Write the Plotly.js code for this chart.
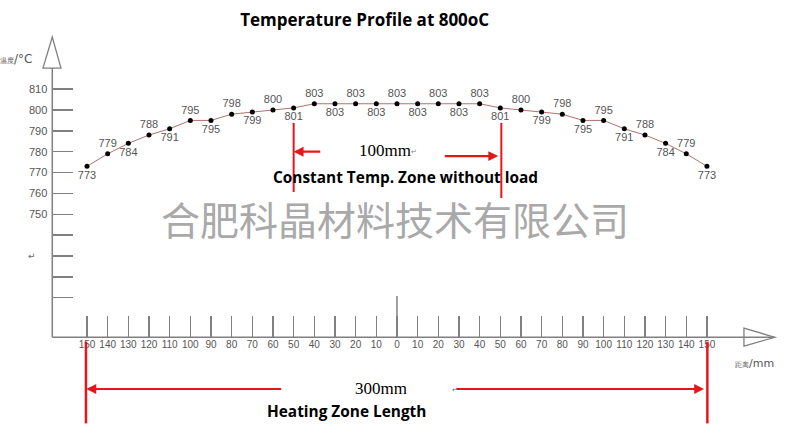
<!DOCTYPE html>
<html>
<head>
<meta charset="utf-8">
<script src="https://cdn.plot.ly/plotly-3.0.1.min.js"></script>
<style>html,body{margin:0;padding:0;background:#fff;}#chart{width:808px;height:448px;}</style>
</head>
<body>
<div id="chart"></div>
<script>
// ---- data ----
const positionsMm = [-150,-140,-130,-120,-110,-100,-90,-80,-70,-60,-50,-40,-30,-20,-10,0,10,20,30,40,50,60,70,80,90,100,110,120,130,140,150];
const temperatures = [773,779,784,788,791,795,795,798,799,800,801,803,803,803,803,803,803,803,803,803,801,800,799,798,795,795,791,788,784,779,773];
const xTickVals = [-150,-140,-130,-120,-110,-100,-90,-80,-70,-60,-50,-40,-30,-20,-10,0,10,20,30,40,50,60,70,80,90,100,110,120,130,140,150];
const xTickLabels = ['150','140','130','120','110','100','90','80','70','60','50','40','30','20','10','0','10','20','30','40','50','60','70','80','90','100','110','120','130','140','150'];
const yTickVals = [810,800,790,780,770,760,750,740,730,720,710];
const yTickLabels = ['810','800','790','780','770','760','750','','','',''];
const constZoneEdges = [-50, 50.5];
const heatZoneEdges = [-150.5, 150.2];

// ---- geometry ----
const xMin = -192.1, xMax = 198.9;
const yMin = 637.9, yMax = 852.76;
const axisX = -166.8;   // y-axis line location (x units)
const axisY = 691;      // x-axis line location (y units)
const grey = '#808080';
const red = '#e8161b';
const tickFamily = '"Liberation Sans Narrow", "Liberation Sans", Arial, sans-serif';
const xTickFont = {family: tickFamily, size: 10, color: '#555'};
const yTickFont = {family: tickFamily, size: 11, color: '#555'};

const textPos = temperatures.map((v, i) => i % 2 === 0 ? 'bottom center' : 'top center');

const trace = {
  x: positionsMm, y: temperatures, type: 'scatter', mode: 'lines+markers+text',
  line: {color: '#b07272', width: 1},
  marker: {color: '#000', size: 5},
  text: temperatures.map(String), textposition: textPos,
  textfont: {family: tickFamily, size: 11, color: '#555'},
  cliponaxis: false, hoverinfo: 'skip', showlegend: false
};

const shapes = [
  {type:'line', xref:'x', yref:'y', x0: axisX, x1: 182.9, y0: axisY, y1: axisY, line:{color:grey, width:1.5}},
  {type:'line', xref:'x', yref:'y', x0: axisX, x1: axisX, y0: axisY, y1: 820.1, line:{color:grey, width:1.5}},
  {type:'path', xref:'x', yref:'y', path:`M ${axisX} 835 L -171.3 820.1 L -162.6 820.1 Z`, line:{color:grey, width:1.3}, fillcolor:'rgba(0,0,0,0)'},
  {type:'path', xref:'x', yref:'y', path:`M 182.9 ${axisY} L 167.9 695.4 L 167.9 686.8 Z`, line:{color:grey, width:1.3}, fillcolor:'rgba(0,0,0,0)'},
  {type:'line', xref:'x', yref:'y', x0: 0, x1: 0, y0: axisY, y1: 710.8, line:{color:grey, width:1.5}},
  {type:'line', xref:'x', yref:'y', x0: constZoneEdges[0], x1: constZoneEdges[0], y0: 793.8, y1: 760.7, line:{color:red, width:2}},
  {type:'line', xref:'x', yref:'y', x0: constZoneEdges[1], x1: constZoneEdges[1], y0: 793.8, y1: 757.8, line:{color:red, width:2}},
  {type:'line', xref:'x', yref:'y', x0: heatZoneEdges[0], x1: heatZoneEdges[0], y0: 688.9, y1: 649.7, line:{color:red, width:2.5}},
  {type:'line', xref:'x', yref:'y', x0: heatZoneEdges[1], x1: heatZoneEdges[1], y0: 688.9, y1: 649.7, line:{color:red, width:2.5}}
];

function arrow(tipX, tipY, tailX, tailY) {
  return {x: tipX, y: tipY, ax: tailX, ay: tailY, xref:'x', yref:'y', axref:'x', ayref:'y',
          text:'', showarrow:true, arrowhead:2, arrowsize:0.9, arrowwidth:2.2, arrowcolor:red, standoff:0};
}
function label(x, y, text, font, extra) {
  return Object.assign({x, y, xref:'x', yref:'y', text, showarrow:false, font, xanchor:'center', yanchor:'middle'}, extra || {});
}

const boldFont = (s) => ({family:'"Open Sans", "Noto Sans", sans-serif', size:s, color:'#000', weight:700});
const serifFont = {family:'"Liberation Serif", "Times New Roman", serif', size:17, color:'#000'};

const annotations = [
  arrow(-50, 780, -36.4, 780),
  arrow(49, 777.9, 22.4, 777.9),
  arrow(-150.3, 666.2, -55.3, 666.2),
  arrow(148.6, 666.2, 28.1, 666.2),
  label(-5.8, 780.6, '100mm', serifFont),
  label(8.2, 780, '↵', {family:'DejaVu Sans', size:7, color:'#888'}),
  label(3.9, 767.6, 'Constant Temp. Zone without load', boldFont(15.4)),
  label(-0.8, 748.2, '合肥科晶材料技术有限公司', {family:'"Noto Sans CJK SC", sans-serif', size:39, color:'#a9a9a9', weight:400}),
  label(-7.7, 666.4, '300mm', serifFont),
  label(28.0, 665.5, '↵', {family:'DejaVu Sans', size:7, color:'#668'}),
  label(-24.2, 655.3, 'Heating Zone Length', boldFont(15.4)),
  label(-184.6, 824.4, '<span style="font-size:7px">温度</span>/°C', {family:'"DejaVu Sans", sans-serif', size:12, color:'#555'}),
  label(172.8, 678.5, '<span style="font-size:7px">距离</span>/mm', {family:'"DejaVu Sans", sans-serif', size:11, color:'#555'}),
  label(-176.8, 729.8, '↵', {family:'DejaVu Sans', size:9, color:'#666'})
];

const layout = {
  width: 808, height: 448,
  margin: {l:0, r:0, t:0, b:0},
  paper_bgcolor:'#fff', plot_bgcolor:'#fff',
  title: {text:'Temperature Profile at 800oC', x: 364.7/808, xanchor:'center', y: 1 - 20/448, yanchor:'middle', yref:'container',
          font: boldFont(17)},
  xaxis: {range:[xMin, xMax], domain:[0,1], anchor:'free', position:(axisY - yMin)/(yMax - yMin),
          showgrid:false, zeroline:false, showline:false,
          tickmode:'array', tickvals:xTickVals, ticktext:xTickLabels,
          ticks:'inside', ticklen:21, tickwidth:1.5, tickcolor:grey, tickfont:xTickFont, fixedrange:true},
  yaxis: {range:[yMin, yMax], domain:[0,1], anchor:'free', position:(axisX - xMin)/(xMax - xMin),
          showgrid:false, zeroline:false, showline:false,
          tickmode:'array', tickvals:yTickVals, ticktext:yTickLabels, ticklabelstandoff:5,
          ticks:'inside', ticklen:20, tickwidth:1.5, tickcolor:grey, tickfont:yTickFont, fixedrange:true},
  shapes, annotations, showlegend:false
};

Plotly.newPlot('chart', [trace], layout, {staticPlot:true, displayModeBar:false});
</script>
</body>
</html>
